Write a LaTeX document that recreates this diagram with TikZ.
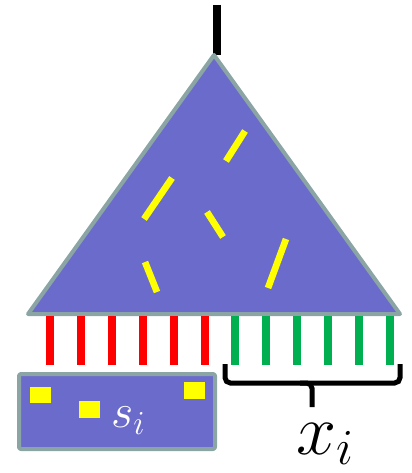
\documentclass[tikz,border=0pt]{standalone}
\usepackage{fix-cm}
\usepackage{xcolor}
\usepackage{tikz}
\usetikzlibrary{calc}
\definecolor{treefill}{HTML}{6B6BCC}
\definecolor{treeedge}{HTML}{8BA4A4}
\definecolor{bitred}{HTML}{FF0000}
\definecolor{bitgreen}{HTML}{00B050}
\definecolor{markyellow}{HTML}{FFFF00}

\begin{document}
\begin{tikzpicture}[x=0.75pt,y=-0.75pt]
  \tikzstyle{tree}=[fill=treefill,draw=treeedge,line width=3pt,line join=round]
  \tikzstyle{piece}=[draw=markyellow,line width=5pt]
  \tikzstyle{bit}=[line width=6pt]
  \useasboundingbox (0,0) rectangle (411,473);
  % root wire and tree
  \coordinate (apex) at (214,55);
  \coordinate (bl) at (28,314);
  \coordinate (br) at (400,314);
  \coordinate (root) at (217,5);
  \draw[line width=6pt] (root) -- (217,55);
  \draw[tree] (apex) -- (br) -- (bl) -- cycle;
  % hidden yellow pieces
  \draw[piece] (245,131) -- (226,161);
  \draw[piece] (172,178) -- (144,219);
  \draw[piece] (207,212) -- (223,237);
  \draw[piece] (286,239) -- (268,288);
  \draw[piece] (145,262) -- (157,292);
  % input wires
  \foreach \k in {0,...,5} {
    \draw[bit,draw=bitred] ({50+30.9*\k},316) -- ({50+30.9*\k},365);
    \draw[bit,draw=bitgreen] ({235+30.9*\k},316) -- ({235+30.9*\k},365);
  }
  % secret box
  \draw[tree,rounded corners=1.5pt] (19,374) rectangle (215,449);
  \fill[markyellow] (30,387) rectangle (51,403);
  \fill[markyellow] (79,401) rectangle (100,418);
  \fill[markyellow] (184,382) rectangle (205,399);
  \node[anchor=base west,inner sep=0,text=white] (s) at (111,427)
    {\fontsize{36}{40}\selectfont$s_i$};
  % brace over public inputs
  \draw[line width=3.75pt,rounded corners=4pt] (225,364) -- (225,383) -- (312,383)
    -- (400,383) -- (400,364);
  \draw[line width=3.75pt,rounded corners=4pt] (300,383) -- (312,383) -- (312,407);
  \node[anchor=base west,inner sep=0] (x) at (296,454)
    {\fontsize{54}{60}\selectfont$x_i$};
\end{tikzpicture}
\end{document}
